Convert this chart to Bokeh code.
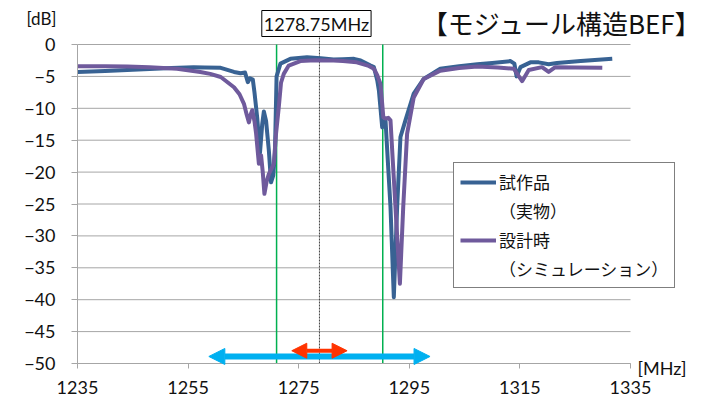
from bokeh.plotting import figure
from bokeh.models import FixedTicker, Label, Legend, LegendItem, Arrow, NormalHead
from bokeh.embed import file_html
from bokeh.resources import INLINE

# ---- data ----
freq_meas = [1235, 1240, 1244, 1248, 1252, 1256, 1258, 1260.9, 1263.3, 1264.5, 1265.3,
             1265.8, 1266.2, 1266.7, 1267.0, 1267.5, 1268.0, 1268.4, 1268.7, 1269.1,
             1269.6, 1270.0, 1270.4, 1270.7, 1271.0, 1271.7, 1273.5, 1276.5, 1279.0,
             1281.3, 1283.0, 1285.0, 1286.2, 1288.0, 1288.6, 1289.2, 1289.5, 1290.1,
             1290.7, 1291.1, 1291.6, 1292.2, 1292.8, 1293.4, 1294.3, 1295.8, 1297.6,
             1300.6, 1304.0, 1307.3, 1310.0, 1313.3, 1314.0, 1314.4, 1315.1, 1316.9,
             1318.4, 1320.2, 1321.7, 1326.0, 1331.7]
db_meas = [-4.3, -4.15, -4.0, -3.85, -3.7, -3.55, -3.6, -3.65, -4.3, -4.5, -4.4,
           -5.9, -5.3, -5.5, -7.5, -11.5, -17.0, -12.5, -10.5, -12.0,
           -16.6, -21.6, -20.5, -17.0, -5.0, -3.0, -2.25, -2.0, -2.15,
           -2.35, -2.3, -2.25, -2.5, -3.3, -3.55, -5.6, -7.2, -13.0,
           -11.9, -18.0, -25.5, -39.6, -25.5, -14.5, -11.9, -7.7, -5.4,
           -3.8, -3.4, -3.1, -2.9, -2.6, -3.0, -5.0, -3.55, -2.8,
           -2.8, -3.1, -2.9, -2.6, -2.25]

freq_sim = [1235, 1240, 1244, 1248, 1253, 1257.2, 1259, 1260.9, 1263.3, 1264.3, 1265.1,
            1265.6, 1266.0, 1266.3, 1266.6, 1267.0, 1267.3, 1267.8, 1268.2, 1268.5,
            1268.8, 1269.2, 1269.6, 1270.5, 1270.9, 1271.4, 1271.8, 1272.3, 1273.2,
            1275.3, 1278.0, 1281.3, 1283.0, 1285.5, 1287.5, 1288.6, 1289.2, 1289.8,
            1290.3, 1290.7, 1291.2, 1291.6, 1292.0, 1292.5, 1293.3, 1293.9, 1294.6,
            1295.8, 1297.6, 1300.6, 1304.0, 1307.3, 1311.0, 1313.9, 1315.4, 1316.6,
            1319.0, 1320.2, 1321.4, 1325.0, 1329.9]
db_sim = [-3.4, -3.4, -3.45, -3.55, -3.8, -4.3, -4.6, -5.1, -6.7, -7.8, -9.3,
          -11.0, -12.2, -11.0, -10.3, -12.0, -14.0, -18.7, -17.4, -20.0,
          -23.4, -21.5, -20.3, -18.7, -14.0, -9.8, -6.0, -4.6, -3.3,
          -2.6, -2.45, -2.5, -2.6, -2.8, -3.3, -3.8, -4.8, -6.2,
          -11.4, -11.6, -11.5, -11.9, -18.0, -25.5, -37.5, -25.5, -14.0,
          -8.3, -5.4, -4.1, -3.7, -3.45, -3.6, -3.8, -5.75, -4.0,
          -3.55, -4.3, -3.55, -3.6, -3.65]

x_ticks = [1235, 1255, 1275, 1295, 1315, 1335]
y_ticks = [0, -5, -10, -15, -20, -25, -30, -35, -40, -45, -50]
x_min, x_max = 1235, 1335
y_min, y_max = -50, 0
center_freq = 1278.75
band_edges = [1271.0, 1290.2]
narrow_band = [1273.75, 1283.75]
wide_band = [1258.75, 1298.75]

series_names = ["試作品", "（実物）", "設計時", "（シミュレーション）"]
title_text = "【モジュール構造BEF】"
center_label = "1278.75MHz"

# ---- layout (pixels) ----
W, H = 708, 400
PX_LEFT, PX_RIGHT = 77, 630      # pixel columns of x_min / x_max
PX_TOP, PX_BOTTOM = 44, 363      # pixel rows of y_max / y_min
sx = (PX_RIGHT - PX_LEFT) / (x_max - x_min)
sy = (PX_BOTTOM - PX_TOP) / (y_max - y_min)


def px_x(px):
    return x_min + (px - PX_LEFT) / sx


def px_y(py):
    return y_max - (py - PX_TOP) / sy


BLUE = "#386293"
PURPLE = "#6F5A9C"
GRID = "#A6A6A6"
TXT = "#111111"
NUM_FONT = "Lato"
JP_FONT = "Noto Sans CJK JP"

p = figure(width=W, height=H, x_range=(px_x(0), px_x(W)), y_range=(px_y(H), px_y(0)),
           output_backend="svg", toolbar_location=None,
           min_border_left=0, min_border_right=0, min_border_top=0, min_border_bottom=0)
p.title.visible = False
p.outline_line_color = None
p.background_fill_color = "white"
p.border_fill_color = "white"
p.xgrid.visible = False
p.ygrid.visible = False

# horizontal gridlines (limited to the axis extent)
p.segment(x0=[x_min] * len(y_ticks), y0=y_ticks, x1=[x_max] * len(y_ticks), y1=y_ticks,
          line_color=GRID, line_width=1)

p.xaxis.ticker = FixedTicker(ticks=x_ticks)
p.yaxis.ticker = FixedTicker(ticks=y_ticks)
p.xaxis.fixed_location = y_min
p.yaxis.fixed_location = x_min
p.xaxis.bounds = (x_min, x_max)
p.yaxis.bounds = (y_min, y_max)
for ax in (p.xaxis, p.yaxis):
    ax.axis_line_color = GRID
    ax.major_tick_line_color = GRID
    ax.minor_tick_line_color = None
    ax.major_tick_in = 0
    ax.major_label_text_font = NUM_FONT
    ax.major_label_text_font_size = "18px"
    ax.major_label_text_color = TXT
p.xaxis.major_tick_out = 5
p.xaxis.major_label_standoff = 12
p.yaxis.major_tick_out = 6
p.yaxis.major_label_standoff = 16

# marker lines
p.segment(x0=band_edges, y0=[y_max, y_max], x1=band_edges, y1=[y_min, y_min],
          line_color="#00B050", line_width=1.5)
p.segment(x0=[center_freq], y0=[px_y(34)], x1=[center_freq], y1=[y_min],
          line_color="#404040", line_width=1, line_dash="2 1")

# series
r_meas = p.line(freq_meas, db_meas, line_color=BLUE, line_width=4, line_join="round")
r_sim = p.line(freq_sim, db_sim, line_color=PURPLE, line_width=4, line_join="round")
r_blank = p.line([], [], line_alpha=0)

# arrows
p.add_layout(Arrow(start=NormalHead(size=16, fill_color="#00B0F0", line_color="#00B0F0"),
                   end=NormalHead(size=16, fill_color="#00B0F0", line_color="#00B0F0"),
                   x_start=wide_band[0], y_start=-48.9, x_end=wide_band[1], y_end=-48.9,
                   line_color="#00B0F0", line_width=6))
p.add_layout(Arrow(start=NormalHead(size=15, fill_color="#FF3300", line_color="#FF3300"),
                   end=NormalHead(size=15, fill_color="#FF3300", line_color="#FF3300"),
                   x_start=narrow_band[0], y_start=-48.0, x_end=narrow_band[1], y_end=-48.0,
                   line_color="#FF3300", line_width=4))

# texts
p.add_layout(Label(x=center_freq, y=px_y(23), x_offset=-3, text=center_label,
                   text_align="center", text_baseline="middle", text_font=NUM_FONT,
                   text_font_size="18px", text_color=TXT, border_line_color="black",
                   border_line_width=1, background_fill_color="white", padding=2))
p.add_layout(Label(x=px_x(702), y=px_y(22), text=title_text, text_align="right",
                   text_baseline="middle", text_font=JP_FONT, text_font_size="26px",
                   text_color=TXT))
p.add_layout(Label(x=px_x(56), y=px_y(18), text="[dB]", text_align="right",
                   text_baseline="middle", text_font=NUM_FONT, text_font_size="17px",
                   text_color=TXT))
p.add_layout(Label(x=px_x(637), y=px_y(367), text="[MHz]", text_align="left",
                   text_baseline="middle", text_font=NUM_FONT, text_font_size="18px",
                   text_color=TXT))

legend = Legend(items=[LegendItem(label=series_names[0], renderers=[r_meas]),
                       LegendItem(label=series_names[1], renderers=[r_blank]),
                       LegendItem(label=series_names[2], renderers=[r_sim]),
                       LegendItem(label=series_names[3], renderers=[r_blank])],
                location=(453, H - 288), margin=0, padding=6, spacing=4,
                glyph_width=36, glyph_height=20, label_standoff=3, label_height=22,
                label_text_font=JP_FONT, label_text_font_size="17px",
                label_text_color=TXT, border_line_color="black", border_line_width=1,
                background_fill_color="white", background_fill_alpha=1)
p.add_layout(legend)

open("out.html", "w").write(file_html(p, INLINE))
